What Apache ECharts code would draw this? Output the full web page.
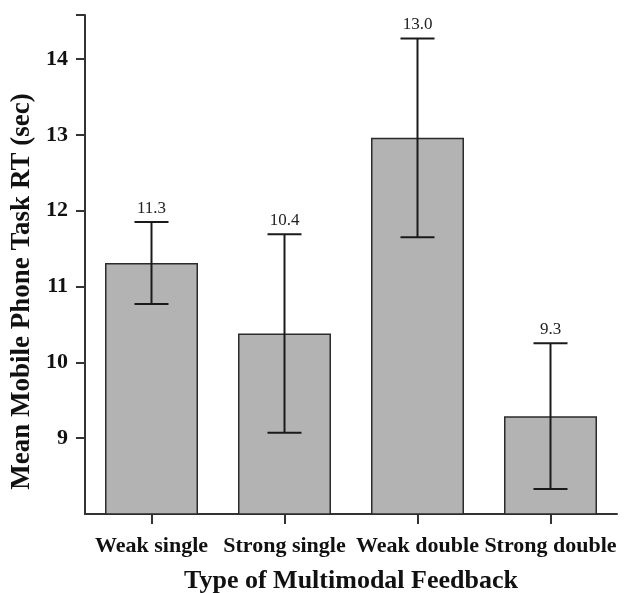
<!DOCTYPE html>
<html>
<head>
<meta charset="utf-8">
<script src="https://cdn.jsdelivr.net/npm/echarts@6/dist/echarts.min.js"></script>
<style>html,body{margin:0;padding:0;background:#fff}#c{width:625px;height:593px}</style>
</head>
<body>
<div id="c"></div>
<script>
const categories = ['Weak single', 'Strong single', 'Weak double', 'Strong double'];
const means = [11.31, 10.38, 12.96, 9.29];
const errors = [0.54, 1.31, 1.31, 0.96];
const yTicks = [9, 10, 11, 12, 13, 14];
const yMin = 8;
const yMax = 14.58;

const FONT = 'Liberation Serif';
const chart = echarts.init(document.getElementById('c'));
const errData = means.map((m, i) => [i, m - errors[i], m + errors[i], m]);

chart.setOption({
  animation: false,
  grid: { left: 85, right: 8, top: 15, bottom: 79, containLabel: false, outerBoundsMode: 'none' },
  xAxis: {
    type: 'category',
    data: categories,
    name: 'Type of Multimodal Feedback',
    nameLocation: 'middle',
    nameGap: 54,
    nameTextStyle: { fontFamily: FONT, fontWeight: 'bold', fontSize: 26, color: '#111' },
    axisLine: { lineStyle: { color: '#333', width: 2 } },
    axisTick: { show: true, alignWithLabel: true, interval: 0, length: 10, lineStyle: { color: '#333', width: 2 } },
    axisLabel: { fontFamily: FONT, fontWeight: 'bold', fontSize: 22, color: '#111', margin: 21, interval: 0 }
  },
  yAxis: {
    type: 'value',
    min: yMin,
    max: yMax,
    interval: 1,
    name: 'Mean Mobile Phone Task RT (sec)',
    nameLocation: 'middle',
    nameGap: 47,
    nameRotate: 90,
    nameTextStyle: { fontFamily: FONT, fontWeight: 'bold', fontSize: 27, color: '#111', padding: [0, 54, 0, 0] },
    splitLine: { show: false },
    axisLine: { show: true, lineStyle: { color: '#333', width: 2 } },
    axisTick: { show: true, length: 9, customValues: yTicks.concat([yMax]), lineStyle: { color: '#333', width: 2 } },
    axisLabel: {
      fontFamily: FONT, fontWeight: 'bold', fontSize: 22, color: '#111', margin: 17,
      customValues: yTicks
    }
  },
  series: [
    {
      type: 'bar',
      data: means,
      barWidth: 93,
      itemStyle: { color: '#b3b3b3', borderColor: '#2b2b2b', borderWidth: 1.5 }
    },
    {
      type: 'custom',
      data: errData,
      z: 10,
      renderItem: function (params, api) {
        const x = api.value(0);
        const lo = api.coord([x, api.value(1)]);
        const hi = api.coord([x, api.value(2)]);
        const half = 17;
        const st = { stroke: '#1a1a1a', lineWidth: 2 };
        return {
          type: 'group',
          children: [
            { type: 'line', shape: { x1: hi[0], y1: hi[1], x2: lo[0], y2: lo[1] }, style: st },
            { type: 'line', shape: { x1: hi[0] - half, y1: hi[1], x2: hi[0] + half, y2: hi[1] }, style: st },
            { type: 'line', shape: { x1: lo[0] - half, y1: lo[1], x2: lo[0] + half, y2: lo[1] }, style: st },
            {
              type: 'text',
              style: {
                x: hi[0], y: hi[1] - 5,
                text: api.value(3).toFixed(1),
                fill: '#222',
                font: '17px "Liberation Serif"',
                textAlign: 'center', textVerticalAlign: 'bottom'
              }
            }
          ]
        };
      }
    }
  ]
});
</script>
</body>
</html>
